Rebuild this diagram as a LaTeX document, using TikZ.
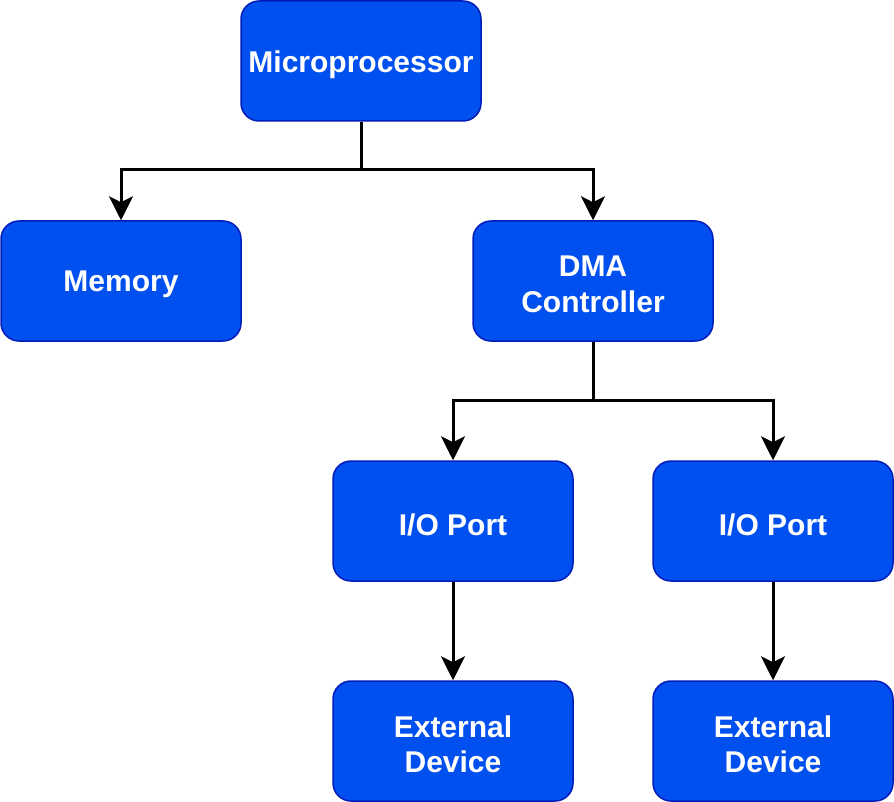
\documentclass[tikz,border=0pt]{standalone}
\usepackage{fontspec}
\setmainfont{Liberation Sans}
\usetikzlibrary{arrows.meta}
\definecolor{boxfill}{HTML}{0050EF}
\definecolor{boxline}{HTML}{001DBC}
\begin{document}
\begin{tikzpicture}[x=1pt,y=-1pt,
  blk/.style={draw=boxline,fill=boxfill,line width=1.5pt,rounded corners=18pt,
    minimum width=240pt,minimum height=120pt,inner sep=0pt},
  lbl/.style={text=white,inner sep=0pt,yshift=-3.5pt,
    font=\fontsize{30}{35.4}\selectfont\bfseries,align=center},
  conn/.style={line width=3pt,draw=black,-{Triangle[width=24pt,length=24pt,inset=6pt]}}]
\useasboundingbox (0,0) rectangle (894,802);
\node[blk,label={[lbl]center:Microprocessor}] (mp) at (361,61) {};
\node[blk,label={[lbl]center:Memory}] (mem) at (121,281) {};
\node[blk,label={[lbl]center:{DMA\\Controller}}] (dma) at (593,281) {};
\node[blk,label={[lbl]center:I/O Port}] (io1) at (453,521) {};
\node[blk,label={[lbl]center:I/O Port}] (io2) at (773,521) {};
\node[blk,label={[lbl]center:{External\\Device}}] (ex1) at (453,741) {};
\node[blk,label={[lbl]center:{External\\Device}}] (ex2) at (773,741) {};
\coordinate (j1) at (361,170);
\coordinate (j2) at (593,400);
\draw[conn] (mp.south) -- (j1) -| (mem.north);
\draw[conn] (mp.south) -- (j1) -| (dma.north);
\draw[conn] (dma.south) -- (j2) -| (io1.north);
\draw[conn] (dma.south) -- (j2) -| (io2.north);
\draw[conn] (io1) -- (ex1);
\draw[conn] (io2) -- (ex2);
\end{tikzpicture}
\end{document}
